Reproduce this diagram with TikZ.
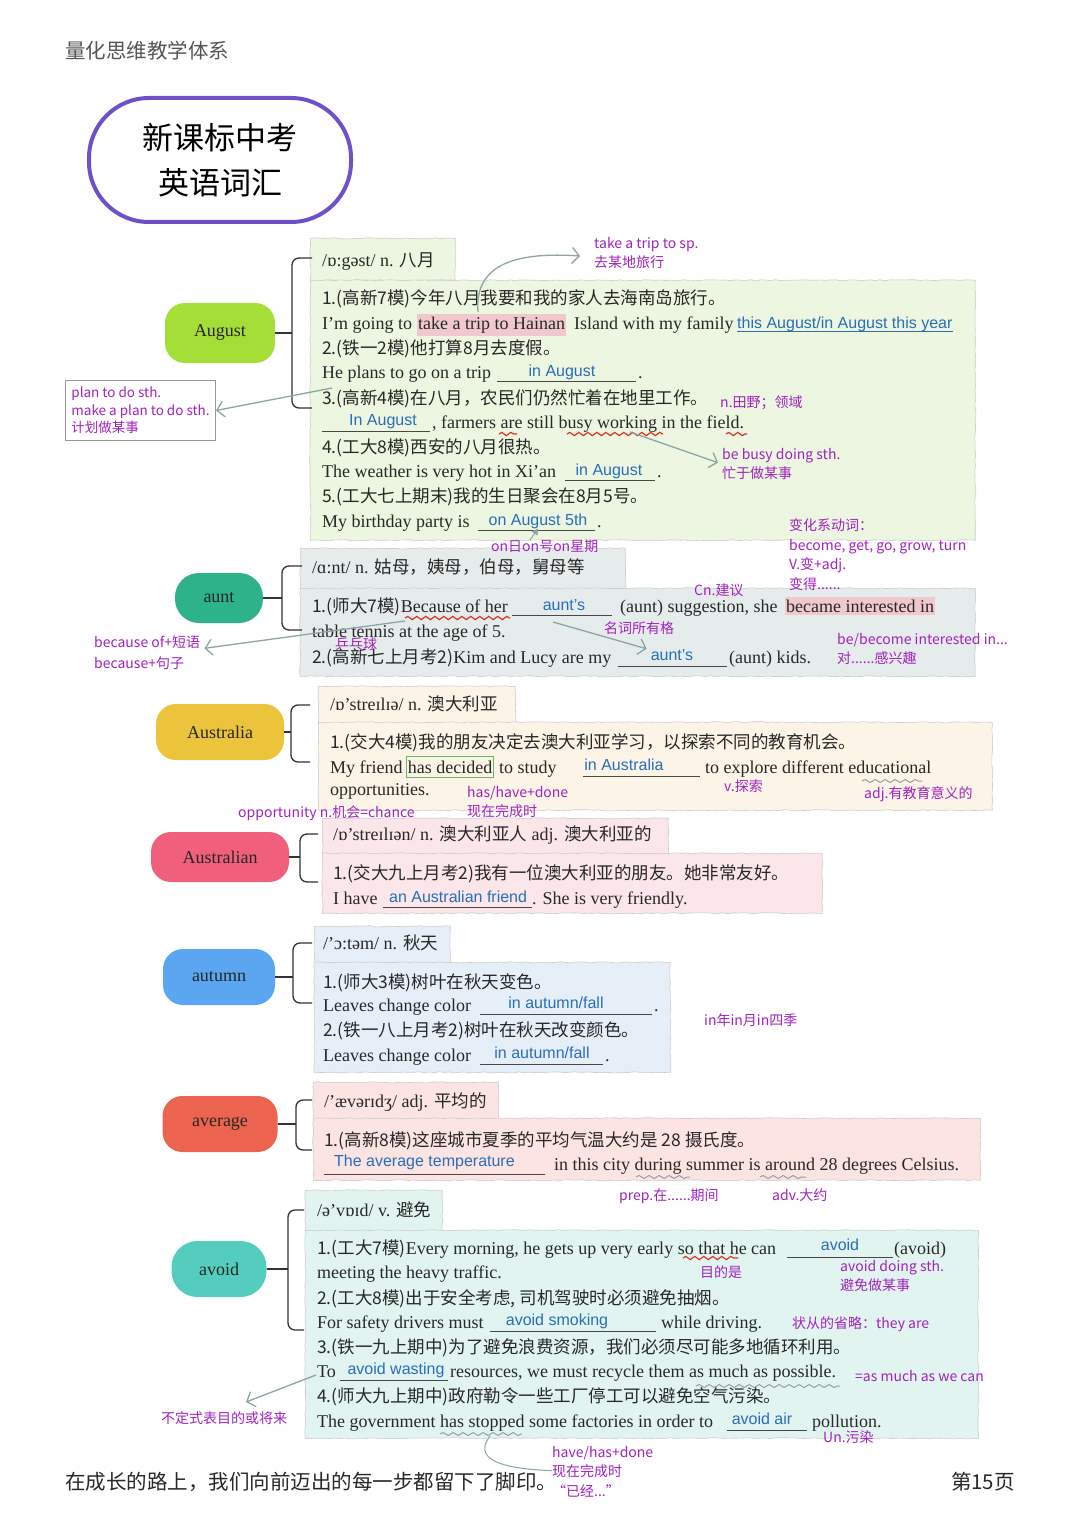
\documentclass[tikz,border=0pt]{standalone}
\usepackage{fontspec}
\setmainfont{Liberation Serif}
\newfontfamily\zhfam{Noto Sans CJK SC}
\newfontfamily\sansfam{Liberation Sans}
\usetikzlibrary{arrows.meta,decorations.pathmorphing,backgrounds}
\definecolor{txt}{RGB}{40,40,40}
\definecolor{annc}{RGB}{160,35,190}
\definecolor{ansc}{RGB}{40,110,185}
\definecolor{arrc}{RGB}{140,165,165}
\definecolor{wavc}{RGB}{215,55,40}
\definecolor{gwavc}{RGB}{150,160,160}
\definecolor{boxedge}{RGB}{205,205,205}
\definecolor{hlc}{RGB}{240,200,205}
\definecolor{titc}{RGB}{110,80,200}
\definecolor{spinec}{RGB}{75,75,75}
\definecolor{headc}{RGB}{85,85,85}
\definecolor{fAug}{RGB}{236,246,224}
\definecolor{fAunt}{RGB}{230,236,236}
\definecolor{fAus}{RGB}{252,244,230}
\definecolor{fAusn}{RGB}{251,230,233}
\definecolor{fAut}{RGB}{230,238,248}
\definecolor{fAvg}{RGB}{251,228,226}
\definecolor{fAvd}{RGB}{226,244,240}
\definecolor{cAug}{RGB}{165,222,55}
\definecolor{cAunt}{RGB}{46,178,138}
\definecolor{cAus}{RGB}{235,196,60}
\definecolor{cAusn}{RGB}{240,96,122}
\definecolor{cAut}{RGB}{90,166,240}
\definecolor{cAvg}{RGB}{236,100,80}
\definecolor{cAvd}{RGB}{85,205,190}
\newcommand\enf{\rmfamily\fontsize{18}{21}\selectfont}
\newcommand\zhf{\zhfam\fontsize{17.5}{21}\selectfont}
\newcommand\annf{\zhfam\fontsize{14}{17.5}\selectfont}
\newcommand\planf{\zhfam\fontsize{13.5}{17.5}\selectfont}
\newcommand\ansf{\sansfam\fontsize{16}{19}\selectfont}
\newcommand\topf{\rmfamily\fontsize{18}{21}\selectfont}
\newcommand\titf{\zhfam\fontsize{31}{45}\selectfont}
\newcommand\headf{\zhfam\fontsize{20.5}{24}\selectfont}
\begin{document}
\begin{tikzpicture}[x=1pt,y=-1pt,
  en/.style={font=\enf, text=txt, anchor=base west, inner sep=0pt},
  zh/.style={font=\zhf, text=txt, anchor=base west, inner sep=0pt},
  ann/.style={font=\annf, text=annc, anchor=base west, inner sep=0pt},
  ans/.style={font=\ansf, text=ansc, anchor=base, inner sep=0pt},
  blankln/.style={draw=txt!85, line width=0.8pt},
  pbox/.style={anchor=north west, draw=boxedge, line width=0.6pt, inner sep=0pt, decorate, decoration={random steps,segment length=5pt,amplitude=0.6pt}},
  topic/.style={inner sep=0pt, rounded corners=20pt, font=\topf, text=black!85},
  arr/.style={draw=arrc, line width=1.3pt, -{Straight Barb[length=7pt,width=16pt]}},
  wav/.style={draw=wavc, line width=1.2pt, decorate, decoration={snake,segment length=9pt,amplitude=1.6pt}},
  gwav/.style={draw=gwavc, line width=1pt, decorate, decoration={snake,segment length=10pt,amplitude=1.5pt}},
  brc/.style={draw=black!80, line width=1.3pt, rounded corners=7pt}]
\fill[white] (0,0) rectangle (1080,1530);
\useasboundingbox (0,0) rectangle (1080,1530);

% header / footer
\node[anchor=base west, inner sep=0pt, font=\headf, text=headc] (head) at (65,59) {量化思维教学体系};
\node[anchor=base west, inner sep=0pt, font=\headf, text=txt] (foot) at (65,1489) {在成长的路上，我们向前迈出的每一步都留下了脚印。};
\node[anchor=base east, inner sep=0pt, font=\headf, text=txt] (page) at (1015,1489) {第15页};

% title
\node[draw=titc, line width=4pt, rounded corners=60pt, minimum width=262pt, minimum height=124pt, font=\titf, align=center, fill=white] (title) at (220,160) {新课标中考\\英语词汇};

% ---------------- boxes ----------------
\node[pbox, fill=fAug, minimum width=145pt, minimum height=42pt] (augPh) at (310,238) {};
\node[pbox, fill=fAug, minimum width=665pt, minimum height=260pt] (augEx) at (310,280) {};
\node[pbox, fill=fAunt, minimum width=325pt, minimum height=42pt] (auntPh) at (300,548) {};
\node[pbox, fill=fAunt, minimum width=675pt, minimum height=88pt] (auntEx) at (300,588) {};
\node[pbox, fill=fAus, minimum width=197pt, minimum height=38pt] (ausPh) at (318,686) {};
\node[pbox, fill=fAus, minimum width=674pt, minimum height=88pt] (ausEx) at (318,722) {};
\node[pbox, fill=fAusn, minimum width=346pt, minimum height=36pt] (ausnPh) at (322,818) {};
\node[pbox, fill=fAusn, minimum width=500pt, minimum height=60pt] (ausnEx) at (322,853) {};
\node[pbox, fill=fAut, minimum width=136pt, minimum height=37pt] (autPh) at (314,926) {};
\node[pbox, fill=fAut, minimum width=356pt, minimum height=110pt] (autEx) at (314,962) {};
\node[pbox, fill=fAvg, minimum width=185pt, minimum height=37pt] (avgPh) at (313,1082) {};
\node[pbox, fill=fAvg, minimum width=667pt, minimum height=62pt] (avgEx) at (313,1118) {};
\node[pbox, fill=fAvd, minimum width=137pt, minimum height=41pt] (avdPh) at (305,1190) {};
\node[pbox, fill=fAvd, minimum width=673pt, minimum height=208pt] (avdEx) at (305,1230) {};

% ---------------- topic nodes ----------------
\node[topic, fill=cAug, minimum width=110pt, minimum height=60pt] (nAug) at (220,333) {August};
\node[topic, fill=cAunt, minimum width=88pt, minimum height=50pt, rounded corners=24pt] (nAunt) at (219,598) {aunt};
\node[topic, fill=cAus, minimum width=128pt, minimum height=56pt] (nAus) at (220,732) {Australia};
\node[topic, fill=cAusn, minimum width=138pt, minimum height=50pt] (nAusn) at (220,857) {Australian};
\node[topic, fill=cAut, minimum width=112pt, minimum height=56pt] (nAut) at (219,977) {autumn};
\node[topic, fill=cAvg, minimum width=115pt, minimum height=56pt] (nAvg) at (220,1124) {average};
\node[topic, fill=cAvd, minimum width=95pt, minimum height=56pt, rounded corners=26pt] (nAvd) at (219,1269) {avoid};

\begin{scope}[on background layer]
\draw[spinec, line width=4pt] (title.south) -- (nAvd.center);
\end{scope}

% braces
\coordinate (bAugT) at (312,258); \coordinate (bAugB) at (312,408); \coordinate (bAugM) at (292,333);
\draw[brc] (bAugT) -| (bAugM) |- (bAugB); \draw[brc] (nAug.east) -- (bAugM);
\coordinate (bAuntT) at (302,566); \coordinate (bAuntB) at (302,630); \coordinate (bAuntM) at (282,598);
\draw[brc] (bAuntT) -| (bAuntM) |- (bAuntB); \draw[brc] (nAunt.east) -- (bAuntM);
\coordinate (bAusT) at (310,705); \coordinate (bAusB) at (310,762); \coordinate (bAusM) at (291,732);
\draw[brc] (bAusT) -| (bAusM) |- (bAusB); \draw[brc] (nAus.east) -- (bAusM);
\coordinate (bAusnT) at (318,834); \coordinate (bAusnB) at (318,882); \coordinate (bAusnM) at (300,857);
\draw[brc] (bAusnT) -| (bAusnM) |- (bAusnB); \draw[brc] (nAusn.east) -- (bAusnM);
\coordinate (bAutT) at (312,943); \coordinate (bAutB) at (312,1003); \coordinate (bAutM) at (293,977);
\draw[brc] (bAutT) -| (bAutM) |- (bAutB); \draw[brc] (nAut.east) -- (bAutM);
\coordinate (bAvgT) at (312,1100); \coordinate (bAvgB) at (312,1150); \coordinate (bAvgM) at (296,1124);
\draw[brc] (bAvgT) -| (bAvgM) |- (bAvgB); \draw[brc] (nAvg.east) -- (bAvgM);
\coordinate (bAvdT) at (304,1210); \coordinate (bAvdB) at (304,1330); \coordinate (bAvdM) at (288,1269);
\draw[brc] (bAvdT) -| (bAvdM) |- (bAvdB); \draw[brc] (nAvd.east) -- (bAvdM);

% ---------------- August ----------------
\node[en] (a0) at (322,266) {/ɒ:gəst/ n. {\zhf 八月}};
\node[zh] (a1) at (322,304) {1.(高新7模)今年八月我要和我的家人去海南岛旅行。};
\node[en] (a2a) at (322,329) {I’m going to};
\node[en, fill=hlc, inner xsep=1pt, inner ysep=3pt] (a2b) at (417,329) {take a trip to Hainan};
\node[en] (a2c) at (574,329) {Island with my family};
\node[ans, anchor=base west] (a2d) at (737,328) {this August/in August this year};
\draw[ansc, line width=0.8pt] (a2d.south west) -- (a2d.south east);
\node[zh] (a3) at (322,354) {2.(铁一2模)他打算8月去度假。};
\node[en] (a4) at (322,378) {He plans to go on a trip};
\draw[blankln] (497,381) -- (636,381);
\node[ans] (a4b) at (562,376) {in August};
\node[en] (a4c) at (638,378) {.};
\node[zh] (a5) at (322,404) {3.(高新4模)在八月，农民们仍然忙着在地里工作。};
\node[ann] (a5n) at (720,407) {n.田野；领域};
\draw[blankln] (322,431) -- (430,431);
\node[ans] (a6b) at (383,425) {In August};
\node[en] (a6) at (432,428) {, farmers are still busy working in the field.};
\draw[wav] (499,434) -- (517,434);
\draw[wav] (567,434) -- (663,434);
\draw[wav] (726,434) -- (747,434);
\node[zh] (a7) at (322,453) {4.(工大8模)西安的八月很热。};
\node[en] (a8) at (322,477) {The weather is very hot in Xi’an};
\draw[blankln] (565,480) -- (655,480);
\node[ans] (a8b) at (609,475) {in August};
\node[en] (a8c) at (657,477) {.};
\node[zh] (a9) at (322,502) {5.(工大七上期末)我的生日聚会在8月5号。};
\node[en] (a10) at (322,527) {My birthday party is};
\draw[blankln] (478,530) -- (595,530);
\node[ans] (a10b) at (538,525) {on August 5th};
\node[en] (a10c) at (597,527) {.};

% August annotations
\node[ann] (trip1) at (594,249) {take a trip to sp.};
\node[ann] (trip2) at (594,267) {去某地旅行};
\coordinate (tripSrc) at (478,312);
\coordinate (tripTip) at (580,256);
\draw[arr] (tripSrc) .. controls (474,262) and (520,252) .. (tripTip);
\node[draw=black!40, line width=1pt, fill=white, anchor=north east, inner xsep=3pt, inner ysep=3pt, align=left, font=\planf, text=annc, minimum width=150pt, minimum height=60pt] (plan) at (216,380) {plan to do sth.\\make a plan to do sth.\\计划做某事};
\coordinate (planSrc) at (332,388);
\draw[arr] (planSrc) -- (plan.east);
\node[ann] (busy1) at (722,459) {be busy doing sth.};
\node[ann] (busy2) at (722,478) {忙于做某事};
\coordinate (busySrc) at (630,432);
\draw[arr] (busySrc) -- ([xshift=-4pt]busy1.south west);
\node[ann] (lv1) at (789,530) {变化系动词：};
\node[ann] (lv2) at (789,550) {become, get, go, grow, turn};
\node[ann] (lv3) at (789,569) {V.变+adj.};
\node[ann] (lv4) at (789,589) {变得......};
\node[ann] (onn) at (491,551) {on日on号on星期};
\coordinate (onSrc) at (530,540);
\draw[draw=arrc, line width=1pt, -{Triangle[length=6pt,width=7pt]}] (onSrc) -- (a10b.south);

% ---------------- aunt ----------------
\node[en] (u0) at (312,573) {/ɑ:nt/ n. {\zhf 姑母，姨母，伯母，舅母等}};
\node[en] (u1) at (312,612) {{\zhf 1.(师大7模)}Because of her};
\draw[blankln] (512,615) -- (612,615);
\node[ans] (u1b) at (564,610) {aunt’s};
\node[en] (u1c) at (620,612) {(aunt) suggestion, she};
\node[en, fill=hlc, inner xsep=1pt, inner ysep=3pt] (u1d) at (785,612) {became interested in};
\draw[wav] (405,618) -- (510,618);
\node[en] (u2) at (312,637) {table tennis at the age of 5.};
\node[en] (u3) at (312,663) {{\zhf 2.(高新七上月考2)}Kim and Lucy are my};
\draw[blankln] (618,666) -- (727,666);
\node[ans] (u3b) at (672,660) {aunt’s};
\node[en] (u3c) at (729,663) {(aunt) kids.};
\node[ann] (pp) at (335,649) {乒乓球};
\node[ann] (cn) at (694,595) {Cn.建议};
\node[ann] (poss) at (604,633) {名词所有格};
\coordinate (possSrc) at (553,622);
\draw[arr] (possSrc) -- ([xshift=-4pt]u3b.north west);
\node[ann] (int1) at (837,644) {be/become interested in...};
\node[ann] (int2) at (837,663) {对......感兴趣};
\node[ann] (bec1) at (94,647) {because of+短语};
\node[ann] (bec2) at (94,668) {because+句子};
\coordinate (becSrc) at (405,621);
\draw[arr] (becSrc) -- ([xshift=4pt]bec1.south east);

% ---------------- Australia ----------------
\node[en] (s0) at (330,710) {/ɒ'streɪlɪə/ n. {\zhf 澳大利亚}};
\node[zh] (s1) at (330,748) {1.(交大4模)我的朋友决定去澳大利亚学习，以探索不同的教育机会。};
\node[en] (s2) at (330,773) {My friend};
\node[en, draw=black!45!green!60, line width=0.9pt, inner xsep=1.5pt, inner ysep=4pt] (s2b) at (406,773) {has decided};
\node[en] (s2c) at (499,773) {to study};
\draw[blankln] (583,776) -- (700,776);
\node[ans] (s2d) at (624,770) {in Australia};
\node[en] (s2e) at (705,773) {to explore different educational};
\node[en] (s3) at (330,795) {opportunities.};
\draw[gwav] (862,781) -- (922,781);
\node[ann] (hd1) at (467,797) {has/have+done};
\node[ann] (hd2) at (467,816) {现在完成时};
\node[ann] (expl) at (724,791) {v.探索};
\node[ann] (edu) at (864,798) {adj.有教育意义的};
\node[ann] (opp) at (238,817) {opportunity n.机会=chance};

% ---------------- Australian ----------------
\node[en] (t0) at (333,840) {/ɒ'streɪlɪən/ n. {\zhf 澳大利亚人} adj. {\zhf 澳大利亚的}};
\node[zh] (t1) at (333,879) {1.(交大九上月考2)我有一位澳大利亚的朋友。她非常友好。};
\node[en] (t2) at (333,904) {I have};
\draw[blankln] (383,907) -- (532,907);
\node[ans, anchor=base west] (t2b) at (389,902) {an Australian friend};
\node[en] (t2c) at (532,904) {. She is very friendly.};

% ---------------- autumn ----------------
\node[en] (m0) at (323,949) {/'ɔ:təm/ n. {\zhf 秋天}};
\node[zh] (m1) at (323,988) {1.(师大3模)树叶在秋天变色。};
\node[en] (m2) at (323,1011) {Leaves change color};
\draw[blankln] (480,1014) -- (652,1014);
\node[ans] (m2b) at (556,1008) {in autumn/fall};
\node[en] (m2c) at (654,1011) {.};
\node[zh] (m3) at (323,1036) {2.(铁一八上月考2)树叶在秋天改变颜色。};
\node[en] (m4) at (323,1061) {Leaves change color};
\draw[blankln] (480,1064) -- (603,1064);
\node[ans] (m4b) at (542,1058) {in autumn/fall};
\node[en] (m4c) at (605,1061) {.};
\node[ann] (season) at (704,1025) {in年in月in四季};

% ---------------- average ----------------
\node[en] (v0) at (324,1107) {/'ævərɪdʒ/ adj. {\zhf 平均的}};
\node[zh] (v1) at (324,1146) {1.(高新8模)这座城市夏季的平均气温大约是 28 摄氏度。};
\node[ans, anchor=base west] (v2b) at (334,1166) {The average temperature};
\draw[blankln] (324,1174) -- (545,1174);
\node[en] (v2) at (554,1170) {in this city during summer is around 28 degrees Celsius.};
\draw[gwav] (636,1177) -- (690,1177);
\draw[gwav] (760,1177) -- (806,1177);
\node[ann] (dur) at (619,1200) {prep.在......期间};
\node[ann] (arnd) at (772,1200) {adv.大约};

% ---------------- avoid ----------------
\node[en] (d0) at (317,1216) {/ə'vɒɪd/ v. {\zhf 避免}};
\node[en] (d1) at (317,1254) {{\zhf 1.(工大7模)}Every morning, he gets up very early so that he can};
\draw[blankln] (787,1257) -- (893,1257);
\node[ans] (d1b) at (840,1250) {avoid};
\node[en] (d1c) at (894,1254) {(avoid)};
\draw[wav] (683,1258) -- (738,1258);
\node[en] (d2) at (317,1278) {meeting the heavy traffic.};
\node[ann] (purp) at (700,1277) {目的是};
\node[ann] (ads1) at (840,1271) {avoid doing sth.};
\node[ann] (ads2) at (840,1290) {避免做某事};
\node[zh] (d3) at (317,1304) {2.(工大8模)出于安全考虑, 司机驾驶时必须避免抽烟。};
\node[en] (d4) at (317,1328) {For safety drivers must};
\draw[blankln] (490,1331) -- (656,1331);
\node[ans] (d4b) at (557,1325) {avoid smoking};
\node[en] (d4c) at (661,1328) {while driving.};
\node[ann] (ell) at (792,1328) {状从的省略：they are};
\node[zh] (d5) at (317,1353) {3.(铁一九上期中)为了避免浪费资源，我们必须尽可能多地循环利用。};
\node[en] (d6) at (317,1377) {To};
\draw[blankln] (340,1380) -- (448,1380);
\node[ans] (d6b) at (396,1374) {avoid wasting};
\node[en] (d6c) at (450,1377) {resources, we must recycle them as much as possible.};
\draw[gwav] (696,1386) -- (840,1386);
\node[ann] (amc) at (855,1381) {=as much as we can};
\node[zh] (d7) at (317,1402) {4.(师大九上期中)政府勒令一些工厂停工可以避免空气污染。};
\node[en] (d8) at (317,1427) {The government has stopped some factories in order to};
\draw[blankln] (727,1430) -- (807,1430);
\node[ans] (d8b) at (762,1424) {avoid air};
\node[en] (d8c) at (812,1427) {pollution.};
\draw[gwav] (440,1434) -- (522,1434);
\node[ann] (unc) at (823,1442) {Un.污染};
\node[ann] (inf) at (161,1423) {不定式表目的或将来};
\coordinate (infSrc) at (316,1375);
\coordinate (infTip) at (246,1402);
\draw[arr] (infSrc) -- (infTip);
\node[ann] (hh1) at (552,1457) {have/has+done};
\node[ann] (hh2) at (552,1476) {现在完成时};
\node[ann] (hh3) at (552,1496) {“已经...”};
\coordinate (hhSrc) at (490,1436);
\draw[draw=arrc, line width=1pt] (hhSrc) .. controls (478,1452) and (482,1468) .. (hh2.west);
\end{tikzpicture}
\end{document}
